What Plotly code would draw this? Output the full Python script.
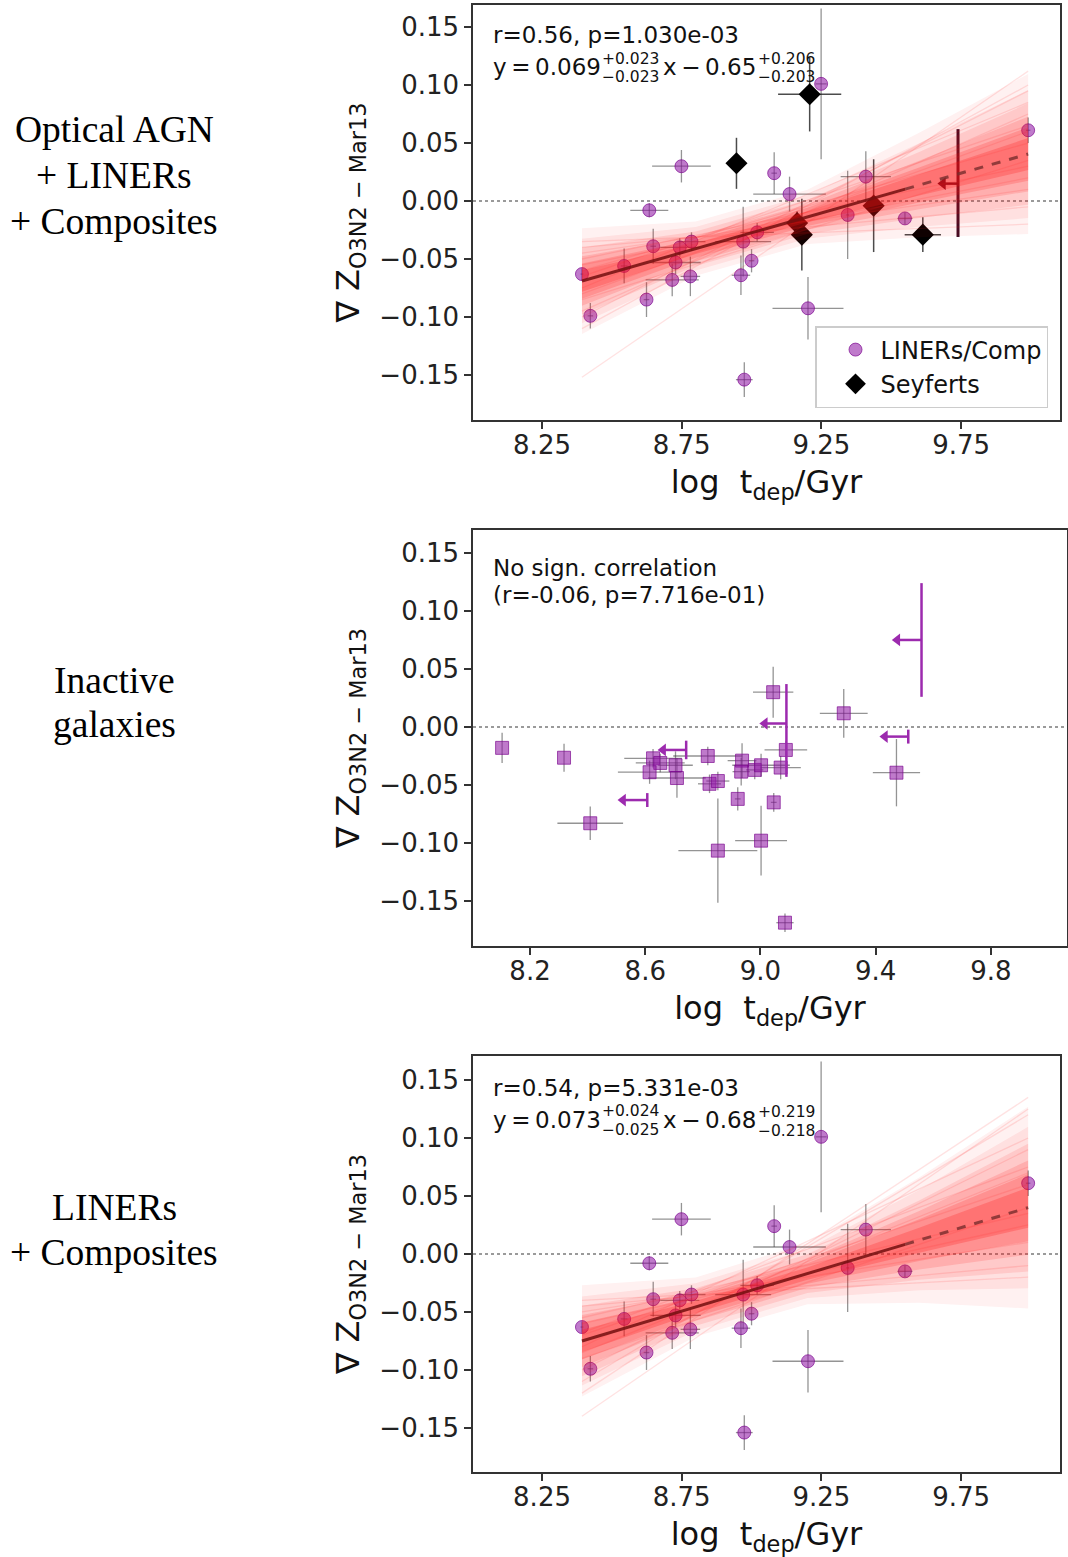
import plotly.graph_objects as go

W, H = 1068, 1557

# ---------------- DATA ----------------
# LINERs / Composites (top and bottom panels)
liner_x = [8.393, 8.423, 8.544, 8.624, 8.634, 8.648, 8.716, 8.728, 8.743, 8.749, 8.781, 8.785, 8.962,
           8.970, 8.974, 9.000, 9.020, 9.081, 9.136, 9.202, 9.249, 9.344, 9.409, 9.549, 9.990]
liner_y = [-0.063, -0.099, -0.056, -0.085, -0.008, -0.039, -0.068, -0.053, -0.040, 0.030, -0.065, -0.035, -0.064,
           -0.035, -0.154, -0.0515, -0.027, 0.024, 0.006, -0.0925, 0.101, -0.012, 0.021, -0.015, 0.061]
liner_xerr = [0.005, 0.010, 0.012, 0.010, 0.068, 0.010, 0.095, 0.090, 0.070, 0.105, 0.035, 0.050, 0.033,
              0.100, 0.030, 0.010, 0.060, 0.010, 0.130, 0.127, 0.020, 0.005, 0.090, 0.027, 0.008]
liner_yerr = [0.005, 0.011, 0.015, 0.015, 0.006, 0.015, 0.014, 0.010, 0.008, 0.014, 0.017, 0.008, 0.017,
              0.030, 0.015, 0.010, 0.008, 0.018, 0.015, 0.027, 0.065, 0.038, 0.022, 0.005, 0.011]

# Seyferts (top panel)
sey_x = [8.946, 9.163, 9.180, 9.208, 9.437, 9.613]
sey_y = [0.0325, -0.019, -0.029, 0.092, -0.004, -0.029]
sey_xerr = [0.0, 0.030, 0.0, 0.113, 0.030, 0.065]
sey_yerr = [0.022, 0.010, 0.031, 0.032, 0.040, 0.015]

# Seyfert upper limit in t_dep (top panel)
sey_lim_x = [9.739]
sey_lim_y = [0.015]
sey_lim_yerr_plus = [0.047]
sey_lim_yerr_minus = [0.046]
sey_lim_arrow_to = [9.685]

# Inactive galaxies (middle panel)
inact_x = [8.103, 8.318, 8.409, 8.627, 8.652, 8.615, 8.705, 8.710, 8.817, 8.823, 8.852, 8.852, 8.921,
           8.936, 8.933, 8.980, 9.002, 9.002, 9.046, 9.088, 9.070, 9.085, 9.472, 9.044, 9.289]
inact_y = [-0.018, -0.0265, -0.083, -0.027, -0.031, -0.039, -0.033, -0.044, -0.025, -0.049, -0.0466, -0.1066, -0.062,
           -0.029, -0.0385, -0.037, -0.033, -0.098, -0.065, -0.0198, -0.035, -0.1687, -0.0394, 0.030, 0.0118]
inact_xerr = [0.0, 0.0, 0.114, 0.100, 0.085, 0.110, 0.060, 0.100, 0.120, 0.040, 0.040, 0.137, 0.010,
              0.050, 0.030, 0.030, 0.100, 0.090, 0.010, 0.074, 0.070, 0.030, 0.082, 0.070, 0.083]
inact_yerr = [0.013, 0.012, 0.0145, 0.008, 0.008, 0.010, 0.012, 0.017, 0.008, 0.008, 0.008, 0.045, 0.010,
              0.015, 0.012, 0.008, 0.010, 0.030, 0.008, 0.008, 0.010, 0.008, 0.029, 0.022, 0.021]

# Inactive galaxies: upper limits in t_dep
inact_lim_x = [9.559, 9.090, 9.513, 8.742, 8.607]
inact_lim_y = [0.075, 0.003, -0.0083, -0.0198, -0.063]
inact_lim_yerr_plus = [0.049, 0.034, 0.006, 0.008, 0.006]
inact_lim_yerr_minus = [0.049, 0.046, 0.006, 0.008, 0.006]
inact_lim_arrow_to = [9.475, 9.015, 9.432, 8.662, 8.523]

# Fits (top: all AGN, bottom: LINERs + Composites)
fit_x = [8.393, 9.55, 9.99]
top_fit_y = [-0.069, 0.0103, 0.0405]
bot_fit_y = [-0.075, 0.0083, 0.0400]

band_x = [8.393, 8.8, 9.2, 9.6, 9.99]
top_band_c = [-0.069, -0.0411, -0.0137, 0.0138, 0.0405]
top_band_sig = [0.0152, 0.0078, 0.0078, 0.0150, 0.0230]
bot_band_c = [-0.075, -0.0457, -0.0169, 0.0119, 0.0400]
bot_band_sig = [0.0160, 0.0085, 0.0088, 0.0180, 0.0290]

line_x = [8.393, 9.99]
top_lines_left = [-0.055, -0.080, -0.095, -0.045, -0.060, -0.085, -0.075, -0.050, -0.100, -0.040, -0.065, -0.110, -0.035, -0.152]
top_lines_right = [0.020, 0.060, 0.075, 0.010, 0.050, 0.035, 0.085, 0.030, 0.095, -0.005, 0.065, 0.100, -0.020, 0.112]
bot_lines_left = [-0.060, -0.085, -0.100, -0.050, -0.070, -0.090, -0.080, -0.055, -0.110, -0.045, -0.068, -0.120, -0.040, -0.140]
bot_lines_right = [0.025, 0.070, 0.090, 0.010, 0.060, 0.040, 0.100, 0.035, 0.120, -0.010, 0.075, 0.135, -0.020, 0.125]

# ---------------- STYLE ----------------
PURPLE_FILL = 'rgba(145, 25, 165, 0.58)'
PURPLE_EDGE = 'rgba(120, 0, 140, 0.65)'
PURPLE_LIM = '#9c2aae'
ERR_GRAY = 'rgba(60, 60, 60, 0.55)'
SEY_LIM = '#3d0a22'
band_levels = [(3.0, 0.06), (2.4, 0.08), (1.9, 0.11), (1.4, 0.15), (1.0, 0.19), (0.6, 0.24)]

fig = go.Figure()


def add_liners(xa, ya, legend):
    fig.add_trace(go.Scatter(
        x=liner_x, y=liner_y, mode='markers', name='LINERs/Comp', showlegend=legend,
        xaxis=xa, yaxis=ya,
        marker=dict(symbol='circle', size=13, color=PURPLE_FILL, line=dict(color=PURPLE_EDGE, width=1)),
        error_x=dict(type='data', array=liner_xerr, color=ERR_GRAY, thickness=1.3, width=0),
        error_y=dict(type='data', array=liner_yerr, color=ERR_GRAY, thickness=1.3, width=0)))


def add_fit(xa, ya, cents, sigs, lleft, lright, fy):
    for mult, alpha in band_levels:
        up = [c + mult * s for c, s in zip(cents, sigs)]
        lo = [c - mult * s for c, s in zip(cents, sigs)]
        fig.add_trace(go.Scatter(
            x=band_x + band_x[::-1], y=up + lo[::-1], mode='lines', fill='toself',
            fillcolor=f'rgba(255, 20, 20, {alpha})', line=dict(width=0), showlegend=False,
            hoverinfo='skip', xaxis=xa, yaxis=ya))
    for a, b in zip(lleft, lright):
        fig.add_trace(go.Scatter(
            x=line_x, y=[a, b], mode='lines', line=dict(color='rgba(255, 30, 30, 0.13)', width=1.3),
            showlegend=False, hoverinfo='skip', xaxis=xa, yaxis=ya))
    fig.add_trace(go.Scatter(
        x=fit_x[:2], y=fy[:2], mode='lines', line=dict(color='rgba(115, 15, 15, 0.85)', width=3),
        showlegend=False, xaxis=xa, yaxis=ya))
    fig.add_trace(go.Scatter(
        x=fit_x[1:], y=fy[1:], mode='lines', line=dict(color='rgba(120, 45, 45, 0.8)', width=3, dash='dash'),
        showlegend=False, xaxis=xa, yaxis=ya))


def add_limits(xa, ya, lx, ly, yp, ym, tips, color, thick):
    # vertical error bars of the limits
    fig.add_trace(go.Scatter(
        x=lx, y=ly, mode='markers', showlegend=False, xaxis=xa, yaxis=ya, hoverinfo='skip',
        marker=dict(size=2, color='rgba(0,0,0,0)'),
        error_y=dict(type='data', symmetric=False, array=yp, arrayminus=ym,
                     color=color, thickness=thick, width=0)))
    # arrow shafts
    sx, sy = [], []
    for a, b, c in zip(lx, tips, ly):
        sx += [a, b, None]
        sy += [c, c, None]
    fig.add_trace(go.Scatter(x=sx, y=sy, mode='lines', line=dict(color=color, width=2.5),
                             showlegend=False, hoverinfo='skip', xaxis=xa, yaxis=ya))
    # arrow heads
    fig.add_trace(go.Scatter(x=tips, y=ly, mode='markers', showlegend=False, hoverinfo='skip',
                             xaxis=xa, yaxis=ya,
                             marker=dict(symbol='triangle-left', size=11, color=color,
                                         line=dict(width=0))))


# ---- top panel ----
add_liners('x', 'y', True)
fig.add_trace(go.Scatter(
    x=sey_x, y=sey_y, mode='markers', name='Seyferts', xaxis='x', yaxis='y',
    marker=dict(symbol='diamond', size=17, color='black', line=dict(color='black', width=0)),
    error_x=dict(type='data', array=sey_xerr, color='rgba(30,30,30,0.8)', thickness=1.5, width=0),
    error_y=dict(type='data', array=sey_yerr, color='rgba(30,30,30,0.8)', thickness=1.5, width=0)))
add_limits('x', 'y', sey_lim_x, sey_lim_y, sey_lim_yerr_plus, sey_lim_yerr_minus, sey_lim_arrow_to, SEY_LIM, 3)
add_fit('x', 'y', top_band_c, top_band_sig, top_lines_left, top_lines_right, top_fit_y)

# ---- middle panel ----
fig.add_trace(go.Scatter(
    x=inact_x, y=inact_y, mode='markers', showlegend=False, xaxis='x2', yaxis='y2',
    marker=dict(symbol='square', size=13, color=PURPLE_FILL, line=dict(color=PURPLE_EDGE, width=1)),
    error_x=dict(type='data', array=inact_xerr, color=ERR_GRAY, thickness=1.3, width=0),
    error_y=dict(type='data', array=inact_yerr, color=ERR_GRAY, thickness=1.3, width=0)))
add_limits('x2', 'y2', inact_lim_x, inact_lim_y, inact_lim_yerr_plus, inact_lim_yerr_minus,
           inact_lim_arrow_to, PURPLE_LIM, 2.5)

# ---- bottom panel ----
add_liners('x3', 'y3', False)
add_fit('x3', 'y3', bot_band_c, bot_band_sig, bot_lines_left, bot_lines_right, bot_fit_y)

# ---------------- LAYOUT ----------------
def px(xp):
    return xp / W


def py(yp):
    return 1 - yp / H


axis_common = dict(showline=True, linecolor='#333333', linewidth=1.5, mirror=True, ticks='outside',
                   ticklen=7, tickwidth=1.5, tickcolor='#333333', showgrid=False, zeroline=False,
                   tickfont=dict(family='DejaVu Sans', size=26, color='#222222'))
xtitle = dict(text='log\u00a0\u00a0t<sub>dep</sub>/Gyr', font=dict(family='DejaVu Sans', size=32, color='#111'),
              standoff=12)
ytitle = dict(text='\u2207 Z<sub>O3N2 \u2212 Mar13</sub>', font=dict(family='DejaVu Sans', size=32, color='#111'),
              standoff=10)

yt = dict(tickmode='linear', tick0=-0.15, dtick=0.05, tickformat='.2f')
xt = dict(ticklabelstandoff=-6)

layout = dict(
    width=W, height=H, margin=dict(l=0, r=0, t=0, b=0),
    paper_bgcolor='white', plot_bgcolor='white',
    font=dict(family='DejaVu Sans', color='#111'),
    xaxis=dict(domain=[px(473), px(1060)], range=[8.003, 10.104], anchor='y', tickmode='linear',
               tick0=8.25, dtick=0.5, tickformat='.2f', title=xtitle, **xt, **axis_common),
    yaxis=dict(domain=[py(420), py(5)], range=[-0.1888, 0.169], anchor='x', title=ytitle, **yt, **axis_common),
    xaxis2=dict(domain=[px(473), px(1067)], range=[8.002, 10.064], anchor='y2', tickmode='linear',
                tick0=8.2, dtick=0.4, tickformat='.1f', title=xtitle, **xt, **axis_common),
    yaxis2=dict(domain=[py(946), py(530)], range=[-0.1888, 0.1698], anchor='x2', title=ytitle, **yt, **axis_common),
    xaxis3=dict(domain=[px(473), px(1060)], range=[8.003, 10.104], anchor='y3', tickmode='linear',
                tick0=8.25, dtick=0.5, tickformat='.2f', title=xtitle, **xt, **axis_common),
    yaxis3=dict(domain=[py(1472), py(1056)], range=[-0.188, 0.1707], anchor='x3', title=ytitle, **yt, **axis_common),
    legend=dict(x=px(1048), y=py(408), xanchor='right', yanchor='bottom', bgcolor='rgba(255,255,255,0.85)',
                bordercolor='#cccccc', borderwidth=1.5, font=dict(family='DejaVu Sans', size=24, color='#111'),
                indentation=14, itemwidth=40),
    showlegend=True,
)
fig.update_layout(**layout)

# zero reference lines
for ax in ['', '2', '3']:
    fig.add_shape(type='line', xref=f'x{ax} domain', yref=f'y{ax}', x0=0, x1=1, y0=0, y1=0,
                  line=dict(color='#9a9a9a', width=2, dash='dot'), layer='below')

annots = []
TS = '\u2009'  # thin space (mathtext-like spacing)


def txt(text, x, y, size=23):
    annots.append(dict(text=text, x=px(x), y=py(y), xref='paper', yref='paper', xanchor='left',
                       yanchor='middle', showarrow=False,
                       font=dict(family='DejaVu Sans', size=size, color='#111')))


SS = 15.5
# top panel text
txt('r=0.56, p=1.030e-03', 491, 35)
txt(f'y{TS}={TS}0.069', 491, 67)
txt('+0.023', 600, 58.5, size=SS)
txt('\u22120.023', 600, 77, size=SS)
txt(f'x{TS}\u2212{TS}0.65', 661, 67)
txt('+0.206', 756, 58.5, size=SS)
txt('\u22120.203', 756, 77, size=SS)
# middle
txt('No sign. correlation', 491, 568)
txt('(r=-0.06, p=7.716e-01)', 491, 595)
# bottom
txt('r=0.54, p=5.331e-03', 491, 1088)
txt(f'y{TS}={TS}0.073', 491, 1120)
txt('+0.024', 600, 1111, size=SS)
txt('\u22120.025', 600, 1129.5, size=SS)
txt(f'x{TS}\u2212{TS}0.68', 661, 1120)
txt('+0.219', 756, 1112, size=SS)
txt('\u22120.218', 756, 1130.5, size=SS)

# row labels
for t, yy in [('Optical AGN', 130), ('+ LINERs', 176), ('+ Composites', 221),
              ('Inactive', 680), ('galaxies', 725),
              ('LINERs', 1207), ('+ Composites', 1252)]:
    annots.append(dict(text=t, x=px(114), y=py(yy), xref='paper', yref='paper', xanchor='center',
                       yanchor='middle', showarrow=False,
                       font=dict(family='Liberation Serif', size=37.5, color='black')))

fig.update_layout(annotations=annots)

fig.write_html('out.html', config={'displayModeBar': False},
               post_script="document.body.style.margin='0px';")
